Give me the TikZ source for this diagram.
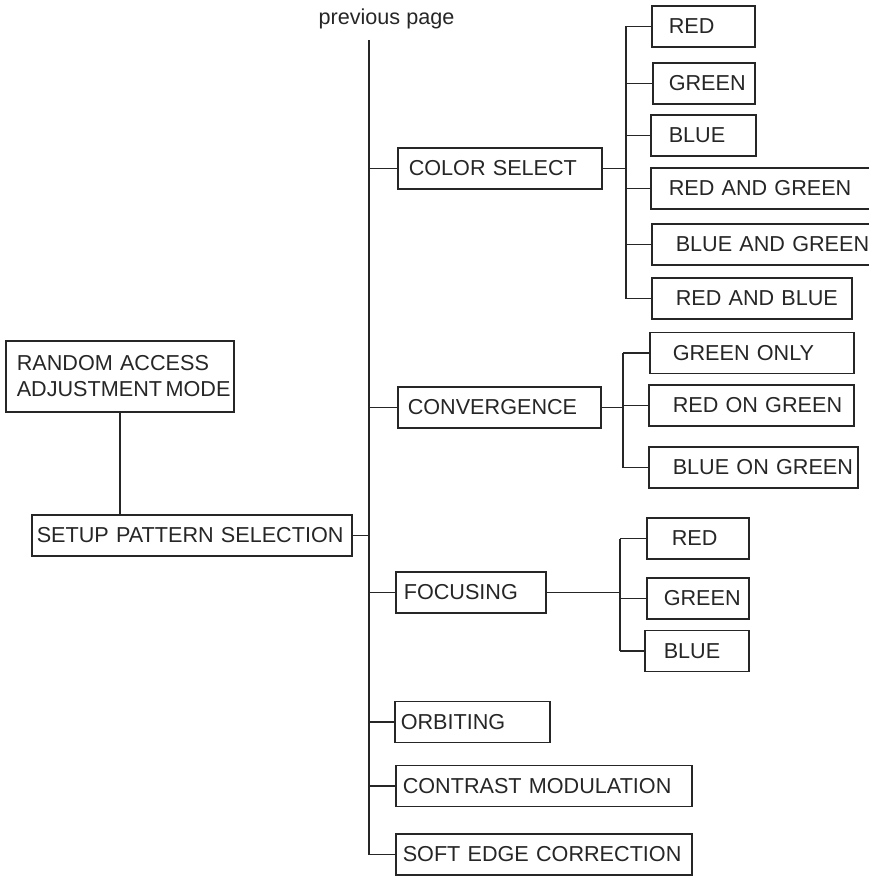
\documentclass[tikz,border=0pt]{standalone}
\usepackage{fontspec}
\setmainfont{Liberation Sans}

\begin{document}
\begin{tikzpicture}[
    x=0.2mm, y=-0.2mm, color=black!85, line width=0.9pt,
    txt/.style={font=\fontsize{12.3}{14.8}\selectfont},
    mbox/.style={txt, draw, anchor=west, align=left, inner xsep=0pt, inner ysep=0pt, minimum height=8.2mm},
    lpad/.style={execute at begin node={\hspace*{#1}}},
  ]
  \path[use as bounding box, clip] (0,0) rectangle (869,876);

  % --- left side and main bus ---
  \node[mbox, lpad=2.2mm, text width=45.6mm, minimum height=14.2mm] (random) at (5,376.5) {RANDOM ACCESS\\\hspace*{2.2mm}ADJUSTMENT\,MODE};
  \node[mbox, lpad=1mm, text width=64mm] (setup) at (31,535.5) {SETUP PATTERN SELECTION};
  \node[txt, anchor=base] (prev) at (386.5,25) {previous page};
  \coordinate (top) at (369,40);

  % --- first level ---
  \node[mbox, lpad=2.2mm, text width=40.8mm] (cs) at (397,168.5) {COLOR SELECT};
  \node[mbox, lpad=2mm, text width=40.6mm] (cv) at (397,407.5) {CONVERGENCE};
  \node[mbox, lpad=1.6mm, text width=30mm] (fo) at (395,592.5) {FOCUSING};
  \node[mbox, lpad=1.2mm, text width=31mm] (orb) at (394,722) {ORBITING};
  \node[mbox, lpad=1.4mm, text width=59.2mm] (cm) at (395,786) {CONTRAST MODULATION};
  \node[mbox, lpad=1.4mm, text width=59.2mm] (se) at (395,854.5) {SOFT EDGE CORRECTION};

  % --- color select ---
  \coordinate (csb) at (626,0);
  \node[mbox, lpad=3.4mm, text width=20.6mm] (r1) at (651,26.5) {RED};
  \node[mbox, lpad=3.2mm, text width=20.4mm] (g1) at (652,83.5) {GREEN};
  \node[mbox, lpad=3.6mm, text width=21mm] (b1) at (650,135.5) {BLUE};
  \node[mbox, lpad=3.6mm, text width=48mm] (rg) at (650,188.5) {RED AND GREEN};
  \node[mbox, lpad=4.8mm, text width=47.8mm] (bg) at (651,244.5) {BLUE AND GREEN};
  \node[mbox, lpad=4.8mm, text width=40mm] (rb) at (651,298.5) {RED AND BLUE};

  % --- convergence ---
  \coordinate (cvb) at (623,0);
  \node[mbox, lpad=4.6mm, text width=40.8mm] (gn) at (649,353) {GREEN ONLY};
  \node[mbox, lpad=4.8mm, text width=41mm] (rog) at (648,405.5) {RED ON GREEN};
  \node[mbox, lpad=4.8mm, text width=41.8mm] (bog) at (648,467.5) {BLUE ON GREEN};

  % --- focusing ---
  \coordinate (fob) at (620,0);
  \node[mbox, lpad=5mm, text width=20.4mm] (fr) at (646,538.5) {RED};
  \node[mbox, lpad=3.4mm, text width=20.4mm] (fg) at (646,598.5) {GREEN};
  \node[mbox, lpad=3.8mm, text width=20.8mm] (fb) at (644,651) {BLUE};

  % connectors
  \draw (top) -- (top |- se.west);
  \draw (random.south) -- (random.south |- setup.north);
  \draw (setup.east) -- (top |- setup.east);
  \draw (top |- cs.west) -- (cs.west)
        (top |- cv.west) -- (cv.west)
        (top |- fo.west) -- (fo.west)
        (top |- orb.west) -- (orb.west)
        (top |- cm.west) -- (cm.west)
        (top |- se.west) -- (se.west);

  \draw (cs.east) -- (csb |- cs.east)
        (csb |- r1.west) -- (csb |- rb.west);
  \draw (csb |- r1.west) -- (r1.west)
        (csb |- g1.west) -- (g1.west)
        (csb |- b1.west) -- (b1.west)
        (csb |- rg.west) -- (rg.west)
        (csb |- bg.west) -- (bg.west)
        (csb |- rb.west) -- (rb.west);

  \draw (cv.east) -- (cvb |- cv.east)
        (cvb |- gn.west) -- (cvb |- bog.west);
  \draw (cvb |- gn.west) -- (gn.west)
        (cvb |- rog.west) -- (rog.west)
        (cvb |- bog.west) -- (bog.west);

  \draw (fo.east) -- (fob |- fo.east)
        (fob |- fr.west) -- (fob |- fb.west);
  \draw (fob |- fr.west) -- (fr.west)
        (fob |- fg.west) -- (fg.west)
        (fob |- fb.west) -- (fb.west);
\end{tikzpicture}
\end{document}
